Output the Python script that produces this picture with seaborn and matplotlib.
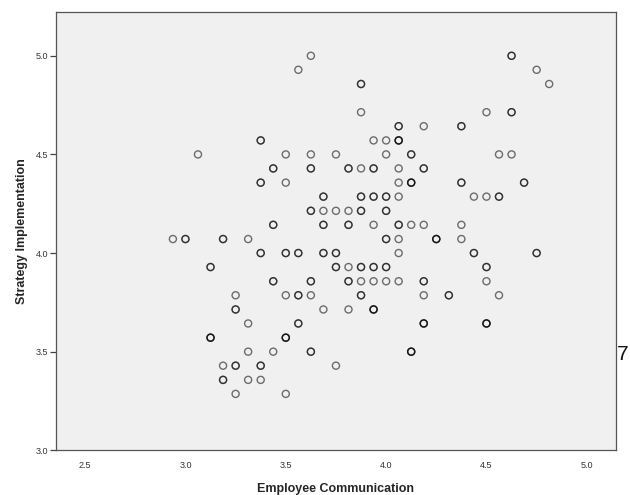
import numpy as np
import pandas as pd
import matplotlib
matplotlib.use("Agg")
import matplotlib.pyplot as plt
import seaborn as sns

# ---- data (each point = one plotted position, count = overlapping respondents) ----
emp_comm = [
    3.625, 4.625,
    3.5625, 4.75,
    3.875, 4.8125,
    3.875, 4.5, 4.625,
    4.0625, 4.1875, 4.375,
    3.375, 3.9375, 4.0, 4.0625,
    3.0625, 3.5, 3.625, 3.75, 4.0, 4.125, 4.5625, 4.625,
    3.4375, 3.625, 3.8125, 3.875, 3.9375, 4.0625, 4.1875,
    3.375, 3.5, 4.0625, 4.125, 4.375, 4.6875,
    3.6875, 3.875, 3.9375, 4.0, 4.0625, 4.4375, 4.5, 4.5625,
    3.625, 3.6875, 3.75, 3.8125, 3.875, 4.0,
    3.4375, 3.6875, 3.8125, 3.9375, 4.0625, 4.125, 4.1875, 4.375,
    2.9375, 3.0, 3.1875, 3.3125, 4.0, 4.0625, 4.25, 4.375,
    3.375, 3.5, 3.5625, 3.6875, 3.75, 4.0625, 4.4375, 4.75,
    3.125, 3.75, 3.8125, 3.875, 3.9375, 4.0, 4.5,
    3.4375, 3.625, 3.8125, 3.875, 3.9375, 4.0, 4.0625, 4.1875, 4.5,
    3.25, 3.5, 3.5625, 3.625, 3.875, 4.1875, 4.3125, 4.5625,
    3.25, 3.6875, 3.8125, 3.9375,
    3.3125, 3.5625, 4.1875, 4.5,
    3.125, 3.5,
    3.3125, 3.4375, 3.625, 4.125,
    3.1875, 3.25, 3.375, 3.75,
    3.1875, 3.3125, 3.375,
    3.25, 3.5,
]
strat_impl = [
    5.0, 5.0,
    4.929, 4.929,
    4.857, 4.857,
    4.714, 4.714, 4.714,
    4.643, 4.643, 4.643,
    4.571, 4.571, 4.571, 4.571,
    4.5, 4.5, 4.5, 4.5, 4.5, 4.5, 4.5, 4.5,
    4.429, 4.429, 4.429, 4.429, 4.429, 4.429, 4.429,
    4.357, 4.357, 4.357, 4.357, 4.357, 4.357,
    4.286, 4.286, 4.286, 4.286, 4.286, 4.286, 4.286, 4.286,
    4.214, 4.214, 4.214, 4.214, 4.214, 4.214,
    4.143, 4.143, 4.143, 4.143, 4.143, 4.143, 4.143, 4.143,
    4.071, 4.071, 4.071, 4.071, 4.071, 4.071, 4.071, 4.071,
    4.0, 4.0, 4.0, 4.0, 4.0, 4.0, 4.0, 4.0,
    3.929, 3.929, 3.929, 3.929, 3.929, 3.929, 3.929,
    3.857, 3.857, 3.857, 3.857, 3.857, 3.857, 3.857, 3.857, 3.857,
    3.786, 3.786, 3.786, 3.786, 3.786, 3.786, 3.786, 3.786,
    3.714, 3.714, 3.714, 3.714,
    3.643, 3.643, 3.643, 3.643,
    3.571, 3.571,
    3.5, 3.5, 3.5, 3.5,
    3.429, 3.429, 3.429, 3.429,
    3.357, 3.357, 3.357,
    3.286, 3.286,
]
overlap = [
    1, 2,
    1, 1,
    2, 1,
    1, 1, 2,
    2, 1, 2,
    2, 1, 1, 3,
    1, 1, 1, 1, 1, 2, 1, 1,
    2, 2, 2, 1, 2, 1, 2,
    2, 1, 1, 3, 2, 2,
    2, 2, 2, 2, 1, 1, 1, 2,
    2, 1, 1, 1, 2, 2,
    2, 2, 2, 1, 2, 1, 1, 1,
    1, 2, 2, 1, 2, 1, 3, 1,
    2, 2, 2, 2, 2, 1, 2, 2,
    2, 2, 1, 2, 2, 2, 2,
    2, 2, 2, 1, 1, 1, 1, 2, 1,
    1, 1, 2, 1, 2, 1, 2, 1,
    2, 1, 1, 3,
    1, 2, 3, 3,
    3, 3,
    1, 1, 2, 3,
    1, 2, 2, 1,
    2, 1, 1,
    1, 1,
]

x_ticks = [2.5, 3.0, 3.5, 4.0, 4.5, 5.0]
y_ticks = [3.0, 3.5, 4.0, 4.5, 5.0]
x_label = "Employee Communication"
y_label = "Strategy Implementation"

df = pd.DataFrame({x_label: emp_comm, y_label: strat_impl, "n": overlap})
df = df.loc[df.index.repeat(df["n"])].reset_index(drop=True)

sns.set_style("white")
plt.rcParams["font.family"] = ["Liberation Sans", "DejaVu Sans"]

fig = plt.figure(figsize=(6.3, 4.95), dpi=100)
ax = fig.add_axes([56 / 630, (495 - 450.3) / 495, (615.7 - 56) / 630, (450.3 - 12) / 495])
ax.set_facecolor("#f0f0f0")

sns.scatterplot(data=df, x=x_label, y=y_label, ax=ax, marker="o", s=26,
                facecolor="none", edgecolor="black", linewidth=1.0, alpha=0.55)

ax.set_xlim(2.355, 5.144)
ax.set_ylim(3.0, 5.222)
ax.set_xticks(x_ticks)
ax.set_yticks(y_ticks)
ax.set_xticklabels([f"{v:.1f}" for v in x_ticks])
ax.set_yticklabels([f"{v:.1f}" for v in y_ticks])
ax.tick_params(axis="x", length=0, pad=8, labelsize=6.5, labelcolor="#333333")
ax.tick_params(axis="y", length=4, width=0.9, color="#444444", pad=1.5,
               labelsize=6.5, labelcolor="#333333", left=True, direction="out")

for side, sp in ax.spines.items():
    sp.set_color("#555555")
    sp.set_linewidth(0.9)
    sp.set_visible(True)

ax.set_xlabel(x_label, fontsize=9, fontweight="bold", labelpad=9)
ax.set_ylabel(y_label, fontsize=9, fontweight="bold", labelpad=6)

fig.text(628.5 / 630, 1 - 354 / 495, "7", fontsize=15, va="center", ha="right",
         color="#111111", fontweight="light")

fig.savefig("out.png", dpi=100)
